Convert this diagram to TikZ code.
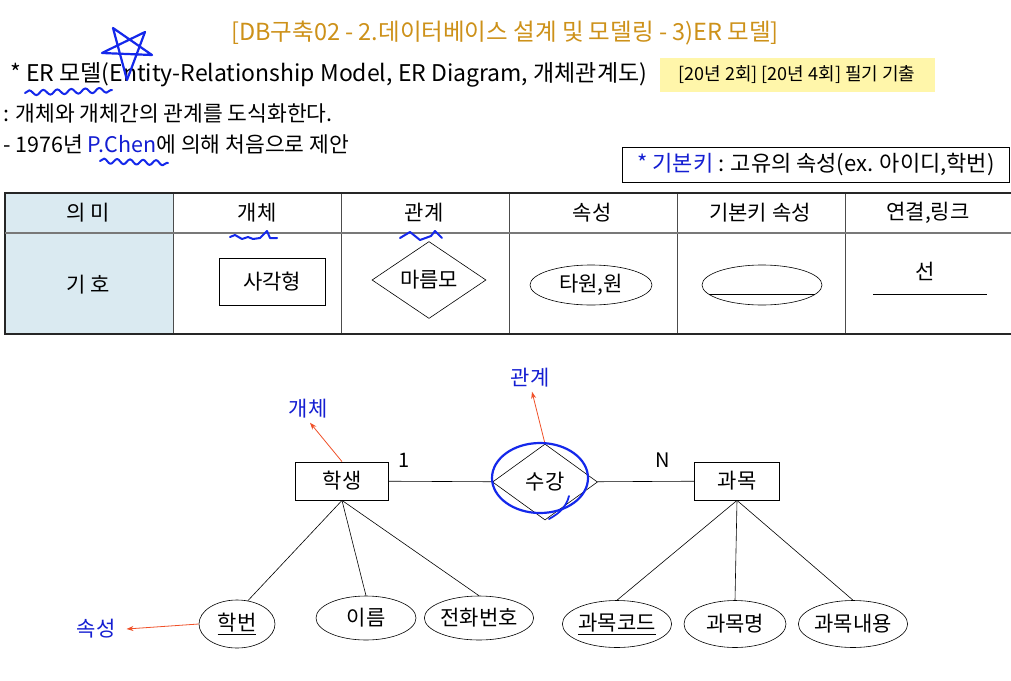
\documentclass[tikz,border=0pt]{standalone}
\usepackage{fontspec}
\setmainfont{Noto Sans CJK KR}
\usetikzlibrary{shapes.geometric,arrows.meta,decorations.pathmorphing}
\definecolor{titlegold}{RGB}{205,145,25}
\definecolor{hlyellow}{RGB}{255,246,170}
\definecolor{pblue}{RGB}{20,30,210}
\definecolor{penblue}{RGB}{20,40,235}
\definecolor{tblue}{RGB}{218,234,241}
\definecolor{tgray}{RGB}{120,120,120}
\definecolor{arrred}{RGB}{240,80,40}
\tikzset{
  fs/.style={font=\fontsize{#1}{#1}\selectfont},
  ent/.style={draw, line width=0.8pt, minimum width=93, minimum height=38, inner sep=0pt, fs=21},
  rel/.style={draw, diamond, line width=0.6pt, minimum width=105, minimum height=76, inner sep=0pt, fs=21},
  attr/.style={draw, ellipse, line width=0.6pt, minimum width=102, minimum height=46, inner sep=0pt, fs=21},
  conn/.style={line width=0.6pt},
  redarrow/.style={draw=arrred, line width=0.8pt, -{Stealth[length=7pt,width=5pt]}},
  lbl/.style={text=pblue, fs=21, inner sep=1pt},
  hand/.style={draw=penblue, line width=2.2pt, line cap=round, line join=round},
  hdr/.style={fs=21, inner sep=0pt},
}
\begin{document}
\begin{tikzpicture}[x=1pt,y=-1pt]
\useasboundingbox (0,0) rectangle (1011,680);
\fill[white] (0,0) rectangle (1011,680);

% ---------- header texts ----------
\node[fs=23.5, text=titlegold] (title) at (505,33) {[DB구축02 - 2.데이터베이스 설계 및 모델링 - 3)ER 모델]};
\node[fs=23, anchor=west, inner sep=0pt] (line2) at (10,75) {* ER 모델(Entity-Relationship Model, ER Diagram, 개체관계도)};
\node[fill=hlyellow, minimum width=275, minimum height=34, inner sep=0pt, fs=18] (hl) at (797,75) {[20년 2회] [20년 4회] 필기 기출};
\node[fs=21.5, anchor=west, inner sep=0pt] (line3) at (3,113) {: 개체와 개체간의 관계를 도식화한다.};
\node[fs=21.5, anchor=west, inner sep=0pt] (line4) at (3,144) {- 1976년 \textcolor{pblue}{P.Chen}에 의해 처음으로 제안};
\node[draw, line width=0.8pt, minimum width=387, minimum height=35, inner sep=0pt, fs=22] (keybox) at (816,165) {\textcolor{pblue}{* 기본키} : 고유의 속성(ex. 아이디,학번)};

% ---------- table ----------
\fill[tblue] (5,193) rectangle (173,334);
\foreach \x in {173,341,509,677,845} \draw[line width=0.7pt, black!70] (\x,193) -- (\x,334);
\draw[line width=1.6pt, black!85] (1011,193) -- (5,193) -- (5,334) -- (1011,334);
\draw[line width=1.6pt, tgray] (5,233) -- (1011,233);

\node[hdr] (h1) at (88,213) {의 미};
\node[hdr] (h2) at (257,213) {개체};
\node[hdr] (h3) at (424,213) {관계};
\node[hdr] (h4) at (592,213) {속성};
\node[hdr] (h5) at (760,213) {기본키 속성};
\node[hdr] (h6) at (928,213) {연결,링크};
\node[hdr] (r1) at (88,285) {기 호};

\node[draw, line width=0.6pt, minimum width=106, minimum height=47, inner sep=0pt, fs=21] (sym1) at (272,282) {사각형};
\node[draw, diamond, line width=0.6pt, minimum width=114, minimum height=56, inner sep=0pt, fs=21] (sym2) at (429,280) {마름모};
\node[draw, ellipse, line width=0.6pt, minimum width=122, minimum height=40, inner sep=0pt, fs=21] (sym3) at (591,285) {타원,원};
\node[draw, ellipse, line width=0.6pt, minimum width=120, minimum height=40, inner sep=0pt] (sym4) at (762,285) {};
\draw[line width=0.6pt] (sym4.190) -- (sym4.-10);
\node[hdr] (sym5) at (925,271) {선};
\coordinate (l5a) at (873,294);
\coordinate (l5b) at (987,294);
\draw[line width=0.6pt] (l5a) -- (l5b);

% ---------- ER diagram ----------
\node[ent] (stu) at (342,481) {학생};
\node[rel] (enr) at (545,482) {수강};
\node[ent, minimum width=85] (sub) at (737,481) {과목};
\draw[conn] (stu) -- (enr);
\draw[conn] (enr) -- (sub);
\node[fs=20, inner sep=0pt] (one) at (404,460) {1};
\node[fs=20, inner sep=0pt] (many) at (663,460) {N};

\node[attr, minimum width=76, minimum height=48] (hb) at (237,624) {\underline{학번}};
\node[attr, minimum width=100, minimum height=44] (nm) at (366,618) {이름};
\node[attr, minimum width=103, minimum height=44] (ph) at (479,618) {전화번호};
\node[attr, minimum width=103, minimum height=47] (sc) at (617,624) {\underline{과목코드}};
\node[attr, minimum width=102, minimum height=47] (sn) at (735,624) {과목명};
\node[attr, minimum width=104, minimum height=47] (sd) at (853,624) {과목내용};

\draw[conn] (stu.south) -- (hb.65);
\draw[conn] (stu.south) -- (nm.north);
\draw[conn] (stu.south) -- (ph.north);
\draw[conn] (sub.south) -- (sc.north);
\draw[conn] (sub.south) -- (sn.north);
\draw[conn] (sub.south) -- (sd.north);

\node[lbl] (lab1) at (308,409) {개체};
\node[lbl] (lab2) at (530,378) {관계};
\node[lbl] (lab3) at (96,629) {속성};
\draw[redarrow] (stu.north) -- ([xshift=2pt,yshift=-3pt]lab1.south);
\draw[redarrow] (enr.north) -- ([xshift=2pt,yshift=-3pt]lab2.south);
\draw[redarrow] (hb.west) -- ([xshift=10pt]lab3.east);

% ---------- pen annotations ----------
\coordinate (sA) at (113,28);
\coordinate (sB) at (145,32);
\coordinate (sC) at (152,55);
\coordinate (sD) at (127,80);
\coordinate (sE) at (102,53);
\draw[hand] (sA) -- (sD) -- (sB) -- (sE) -- (sC) -- (sA);
\draw[hand, line width=2pt, decorate, decoration={snake, segment length=14pt, amplitude=2.5pt}] (25,93) -- (112,90);
\draw[hand, line width=2pt, decorate, decoration={snake, segment length=13pt, amplitude=2.5pt}] (100,161) -- (168,163);
\draw[hand, line width=2pt] (230,237) -- (235,235) -- (242,239) -- (248,237) -- (253,239) -- (260,238) -- (267,231) -- (270,238) -- (277,238);
\draw[hand, line width=2pt] (400,238) -- (410,232) -- (420,240) -- (431,236) -- (435,231) -- (442,238);
\draw[hand] (540,478) ellipse [x radius=48, y radius=35];
\draw[hand, line width=1.8pt] (569,496) .. controls (566,508) and (558,514) .. (549,519);
\end{tikzpicture}
\end{document}
